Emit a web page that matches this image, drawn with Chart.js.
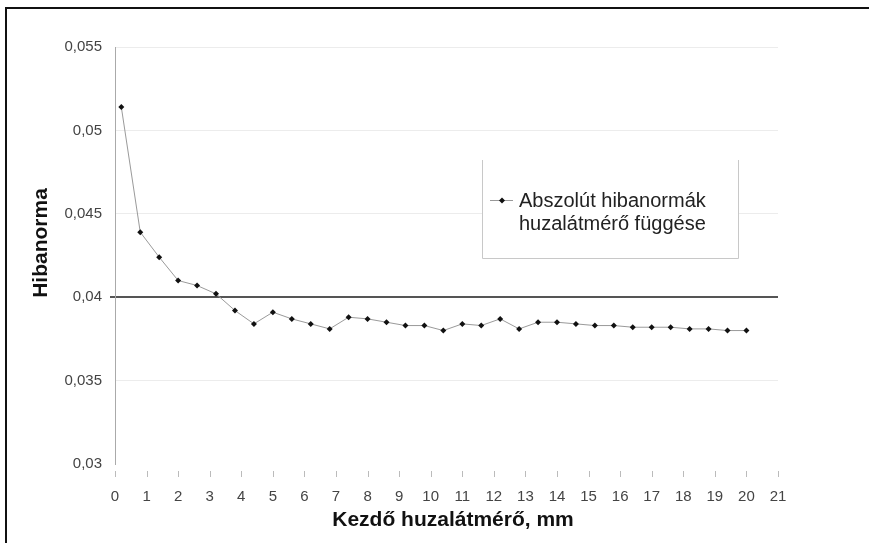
<!DOCTYPE html>
<html>
<head>
<meta charset="utf-8">
<script src="https://cdn.jsdelivr.net/npm/chart.js@4.4.0/dist/chart.umd.min.js"></script>
<style>
  html, body { margin: 0; padding: 0; background: #fff; }
  #wrap { width: 869px; height: 543px; }
</style>
</head>
<body>
<div id="wrap"><canvas id="normChart" width="869" height="543"></canvas></div>
<script>
// Kezdő huzalátmérő (mm) and the absolute error norm
const diameters = [0.2, 0.8, 1.4, 2.0, 2.6, 3.2, 3.8, 4.4, 5.0, 5.6, 6.2, 6.8, 7.4, 8.0, 8.6, 9.2, 9.8,
                   10.4, 11.0, 11.6, 12.2, 12.8, 13.4, 14.0, 14.6, 15.2, 15.8, 16.4, 17.0, 17.6, 18.2, 18.8, 19.4, 20.0];
const errorNorms = [0.0514, 0.0439, 0.0424, 0.0410, 0.0407, 0.0402, 0.0392, 0.0384, 0.0391, 0.0387, 0.0384, 0.0381,
                    0.0388, 0.0387, 0.0385, 0.0383, 0.0383, 0.0380, 0.0384, 0.0383, 0.0387, 0.0381, 0.0385, 0.0385,
                    0.0384, 0.0383, 0.0383, 0.0382, 0.0382, 0.0382, 0.0381, 0.0381, 0.0380, 0.0380];
const yTickLabels = ['0,03', '0,035', '0,04', '0,045', '0,05', '0,055'];
const legendLines = ['Abszolút hibanormák', 'huzalátmérő függése'];
const xTitle = 'Kezdő huzalátmérő, mm';
const yTitle = 'Hibanorma';

const FONT = '"Liberation Sans", Arial, sans-serif';

// white page, black frame, x tick marks, axis titles and the boxed legend
const decorPlugin = {
    id: 'decor',
    beforeDraw(chart) {
        const ctx = chart.ctx;
        ctx.save();
        ctx.fillStyle = '#fff';
        ctx.fillRect(0, 0, chart.width, chart.height);
        ctx.restore();
    },
    afterDraw(chart) {
        const ctx = chart.ctx;
        const area = chart.chartArea;
        const xs = chart.scales.x;
        ctx.save();

        // frame (top and left only)
        ctx.fillStyle = '#111';
        ctx.fillRect(6, 7, chart.width - 6, 2);
        ctx.fillRect(5, 7, 2, chart.height - 7);

        // x tick marks, detached a little from the plot
        ctx.strokeStyle = '#bbb';
        ctx.lineWidth = 1;
        xs.ticks.forEach(t => {
            const px = Math.round(xs.getPixelForValue(t.value)) + 0.5;
            ctx.beginPath();
            ctx.moveTo(px, area.bottom + 7);
            ctx.lineTo(px, area.bottom + 13);
            ctx.stroke();
        });

        // axis titles
        ctx.fillStyle = '#111';
        ctx.font = 'bold 21px ' + FONT;
        ctx.textAlign = 'center';
        ctx.textBaseline = 'middle';
        ctx.fillText(xTitle, 453, 520);
        ctx.translate(41, 243);
        ctx.rotate(-Math.PI / 2);
        ctx.fillText(yTitle, 0, 0);
        ctx.setTransform(1, 0, 0, 1, 0, 0);

        // legend box (no top edge, like the original)
        const bx = 482, by = 160, bw = 256, bh = 98;
        ctx.fillStyle = '#fff';
        ctx.fillRect(bx, by, bw, bh);
        ctx.strokeStyle = '#c8c8c8';
        ctx.beginPath();
        ctx.moveTo(bx + 0.5, by);
        ctx.lineTo(bx + 0.5, by + bh + 0.5);
        ctx.lineTo(bx + bw + 0.5, by + bh + 0.5);
        ctx.lineTo(bx + bw + 0.5, by);
        ctx.stroke();

        ctx.strokeStyle = '#999';
        ctx.beginPath();
        ctx.moveTo(490, 200.5);
        ctx.lineTo(513, 200.5);
        ctx.stroke();
        ctx.fillStyle = '#111';
        ctx.beginPath();
        ctx.moveTo(502, 197.5);
        ctx.lineTo(505, 200.5);
        ctx.lineTo(502, 203.5);
        ctx.lineTo(499, 200.5);
        ctx.closePath();
        ctx.fill();

        ctx.fillStyle = '#222';
        ctx.font = '20px ' + FONT;
        ctx.textAlign = 'left';
        ctx.fillText(legendLines[0], 519, 201);
        ctx.fillText(legendLines[1], 519, 224);
        ctx.restore();
    }
};

const points = diameters.map((d, i) => ({ x: d, y: errorNorms[i] }));

new Chart(document.getElementById('normChart'), {
    type: 'line',
    data: {
        datasets: [{
            label: legendLines.join(' '),
            data: points,
            borderColor: '#9a9a9a',
            borderWidth: 1,
            pointStyle: 'rectRot',
            pointRadius: 3,
            pointBackgroundColor: '#111',
            pointBorderColor: '#111',
            pointBorderWidth: 0,
            tension: 0
        }]
    },
    options: {
        responsive: false,
        devicePixelRatio: 1,
        animation: false,
        layout: { padding: { top: 47, right: 91, left: 0, bottom: 0 } },
        plugins: {
            legend: { display: false },
            tooltip: { enabled: false }
        },
        scales: {
            x: {
                type: 'linear',
                min: 0,
                max: 21,
                afterFit: s => { s.height = 79; },
                grid: { display: false },
                border: { display: false },
                ticks: {
                    stepSize: 1,
                    padding: 16,
                    maxRotation: 0,
                    autoSkip: false,
                    color: '#444',
                    font: { family: FONT, size: 15 },
                    callback: v => String(v)
                }
            },
            y: {
                min: 0.03,
                max: 0.055,
                afterFit: s => { s.width = 115; },
                border: { display: true, color: '#aaa', width: 1 },
                grid: {
                    tickLength: 5,
                    color: c => {
                        const v = c.tick ? c.tick.value : 0;
                        if (Math.abs(v - 0.04) < 1e-6) return '#555';
                        if (Math.abs(v - 0.03) < 1e-6) return 'rgba(0,0,0,0)';
                        return '#ececec';
                    },
                    lineWidth: c => (c.tick && Math.abs(c.tick.value - 0.04) < 1e-6) ? 2 : 1,
                    tickColor: c => (c.tick && Math.abs(c.tick.value - 0.04) < 1e-6) ? '#555' : 'rgba(0,0,0,0)'
                },
                ticks: {
                    stepSize: 0.005,
                    padding: 8,
                    color: '#444',
                    font: { family: FONT, size: 15 },
                    callback: (v, i) => yTickLabels[i]
                }
            }
        }
    },
    plugins: [decorPlugin]
});
</script>
</body>
</html>
